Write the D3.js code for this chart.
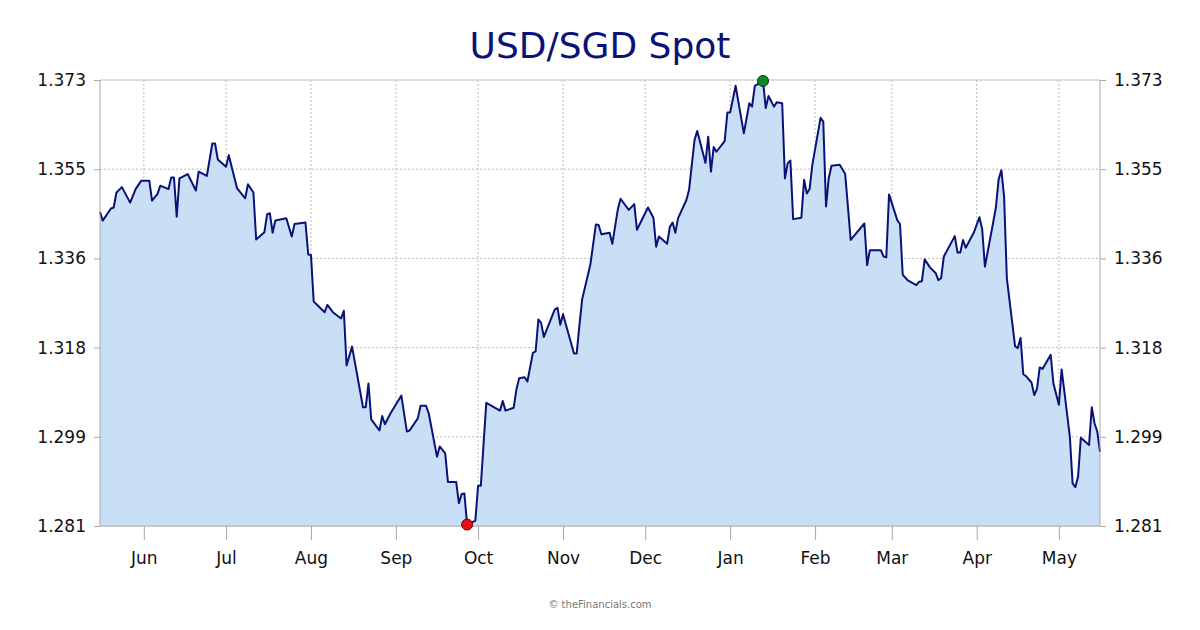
<!DOCTYPE html>
<html><head><meta charset="utf-8">
<script src="https://cdn.jsdelivr.net/npm/d3@7"></script>
<style>body{margin:0;background:#fff}svg{display:block}</style>
</head><body><svg id="c" width="1200" height="630"></svg>
<script>
const title = "USD/SGD Spot";
const startDate = "2024-05-16";
const endDate = "2025-05-16";
const days = [0,1,4,5,6,8,11,13,15,18,19,21,22,25,26,27,28,29,32,35,36,39,41,42,43,46,47,50,53,54,56,57,60,61,62,63,64,68,70,71,75,76,77,78,82,83,85,88,89,90,92,96,97,98,99,102,103,104,106,110,112,113,116,117,119,120,123,124,126,127,130,131,132,133,134,137,138,139,140,141,146,147,148,151,152,153,155,156,158,159,160,161,162,166,167,168,169,173,174,175,176,179,181,182,183,186,187,189,190,193,195,196,200,202,203,204,207,208,209,210,211,214,215,217,218,221,222,223,224,225,228,229,230,232,235,237,238,239,241,242,243,244,246,247,249,250,251,252,253,256,257,258,259,260,263,264,265,266,267,270,272,274,279,280,281,285,286,287,288,291,292,293,295,298,299,300,301,303,305,306,307,308,312,313,314,315,316,319,321,322,323,326,327,328,329,330,331,334,335,336,337,338,340,341,342,343,344,347,348,350,351,354,355,356,357,358,361,362,363,364,365];
const values = [1.3458,1.3440,1.3465,1.3467,1.3498,1.3509,1.3477,1.3505,1.3522,1.3522,1.3481,1.3495,1.3512,1.3505,1.3529,1.3529,1.3448,1.3527,1.3536,1.3502,1.3541,1.3532,1.3599,1.3599,1.3566,1.3551,1.3575,1.3507,1.3486,1.3515,1.3498,1.3401,1.3416,1.3453,1.3455,1.3415,1.3440,1.3445,1.3407,1.3433,1.3436,1.3370,1.3369,1.3273,1.3251,1.3266,1.3251,1.3238,1.3254,1.3141,1.3180,1.3055,1.3055,1.3104,1.3030,1.3007,1.3037,1.3020,1.3042,1.3079,1.3005,1.3007,1.3032,1.3058,1.3058,1.3042,1.2953,1.2974,1.2960,1.2901,1.2901,1.2857,1.2876,1.2877,1.2813,1.2821,1.2893,1.2893,1.2979,1.3064,1.3048,1.3068,1.3048,1.3054,1.3092,1.3115,1.3117,1.3108,1.3167,1.3170,1.3236,1.3229,1.3200,1.3257,1.3260,1.3225,1.3247,1.3166,1.3166,1.3225,1.3278,1.3350,1.3432,1.3431,1.3412,1.3415,1.3392,1.3463,1.3485,1.3462,1.3474,1.3421,1.3467,1.3446,1.3386,1.3407,1.3392,1.3427,1.3436,1.3415,1.3445,1.3482,1.3503,1.3606,1.3625,1.3559,1.3613,1.3541,1.3592,1.3582,1.3604,1.3663,1.3663,1.3718,1.3620,1.3682,1.3675,1.3718,1.3724,1.3728,1.3672,1.3697,1.3675,1.3684,1.3682,1.3527,1.3558,1.3564,1.3443,1.3446,1.3524,1.3496,1.3505,1.3555,1.3652,1.3644,1.3469,1.3528,1.3553,1.3555,1.3536,1.3400,1.3434,1.3348,1.3379,1.3379,1.3366,1.3364,1.3494,1.3441,1.3433,1.3328,1.3316,1.3307,1.3314,1.3315,1.3360,1.3343,1.3332,1.3317,1.3321,1.3366,1.3408,1.3374,1.3374,1.3400,1.3384,1.3416,1.3447,1.3422,1.3345,1.3436,1.3467,1.3525,1.3544,1.3489,1.3321,1.3181,1.3177,1.3198,1.3123,1.3119,1.3106,1.3080,1.3093,1.3137,1.3134,1.3163,1.3104,1.3060,1.3133,1.2994,1.2898,1.2890,1.2912,1.2992,1.2977,1.3055,1.3022,1.3005,1.2963];
const yMin = 1.281, yMax = 1.373, yTickCount = 6;

const parse = d3.timeParse("%Y-%m-%d");
const t0 = parse(startDate), t1 = parse(endDate);
const data = days.map((d,i)=>({date:d3.timeDay.offset(t0,d), v:values[i]}));

const L=100,R=1100,T=80,B=526;
const svg=d3.select("#c");
const x=d3.scaleTime().domain([t0,t1]).range([L,R]);
const y=d3.scaleLinear().domain([yMin,yMax]).range([B,T]);
const yTicks=d3.range(yTickCount).map(i=>yMin+i*(yMax-yMin)/(yTickCount-1));
const months=d3.timeMonth.range(d3.timeMonth.ceil(t0),t1);
const font="DejaVu Sans, Verdana, sans-serif";

// grid
svg.append("g").selectAll("line").data(yTicks).join("line")
 .attr("x1",L).attr("x2",R).attr("y1",d=>y(d)).attr("y2",d=>y(d))
 .attr("stroke","#bbb").attr("stroke-dasharray","2,2");
svg.append("g").selectAll("line").data(months).join("line")
 .attr("x1",d=>x(d)).attr("x2",d=>x(d)).attr("y1",T).attr("y2",B)
 .attr("stroke","#bbb").attr("stroke-dasharray","2,2");

// area + line
svg.append("path").datum(data).attr("fill","#c9dff6")
 .attr("d",d3.area().x(d=>x(d.date)).y0(B).y1(d=>y(d.v)));
svg.append("path").datum(data).attr("fill","none").attr("stroke","#0a1278").attr("stroke-width",2)
 .attr("stroke-linejoin","round")
 .attr("d",d3.line().x(d=>x(d.date)).y(d=>y(d.v)));

// frame
svg.append("line").attr("x1",L).attr("x2",R).attr("y1",T).attr("y2",T).attr("stroke","#ccc");
svg.append("line").attr("x1",L).attr("x2",R).attr("y1",B).attr("y2",B).attr("stroke","#aaa");
svg.append("line").attr("x1",L).attr("x2",L).attr("y1",T).attr("y2",B).attr("stroke","#aaa");
svg.append("line").attr("x1",R).attr("x2",R).attr("y1",T).attr("y2",B).attr("stroke","#aaa");

// axes
const ax=d3.axisBottom(x).tickValues(months).tickFormat(d3.timeFormat("%b")).tickSize(14).tickPadding(12);
const gx=svg.append("g").attr("transform",`translate(0,${B})`).call(ax);
gx.select(".domain").remove();
gx.selectAll("line").attr("stroke","#aaa");
gx.selectAll("text").attr("font-family",font).attr("font-size",17).attr("fill","#111");
const fmt=d=>d.toFixed(3);
const gl=svg.append("g").attr("transform",`translate(${L},0)`).call(d3.axisLeft(y).tickValues(yTicks).tickFormat(fmt).tickSize(6).tickPadding(8));
const gr=svg.append("g").attr("transform",`translate(${R},0)`).call(d3.axisRight(y).tickValues(yTicks).tickFormat(fmt).tickSize(6).tickPadding(8));
[gl,gr].forEach(g=>{g.select(".domain").remove();g.selectAll("line").attr("stroke","#aaa");
 g.selectAll("text").attr("font-family",font).attr("font-size",17).attr("fill","#111");});

// markers
const mn=data[d3.minIndex(data,d=>d.v)], mx=data[d3.maxIndex(data,d=>d.v)];
svg.append("circle").attr("cx",x(mn.date)).attr("cy",y(mn.v)).attr("r",5.5).attr("fill","#e8101a").attr("stroke","#600").attr("stroke-width",1);
svg.append("circle").attr("cx",x(mx.date)).attr("cy",y(mx.v)).attr("r",5.5).attr("fill","#0a8a1a").attr("stroke","#033").attr("stroke-width",1);

svg.append("text").attr("x",600).attr("y",58).attr("text-anchor","middle").attr("font-family",font)
 .attr("font-size",36).attr("fill","#0a1278").text(title);
svg.append("text").attr("x",600).attr("y",608).attr("text-anchor","middle").attr("font-family",font)
 .attr("font-size",10).attr("fill","#777").text("© theFinancials.com");
</script></body></html>
